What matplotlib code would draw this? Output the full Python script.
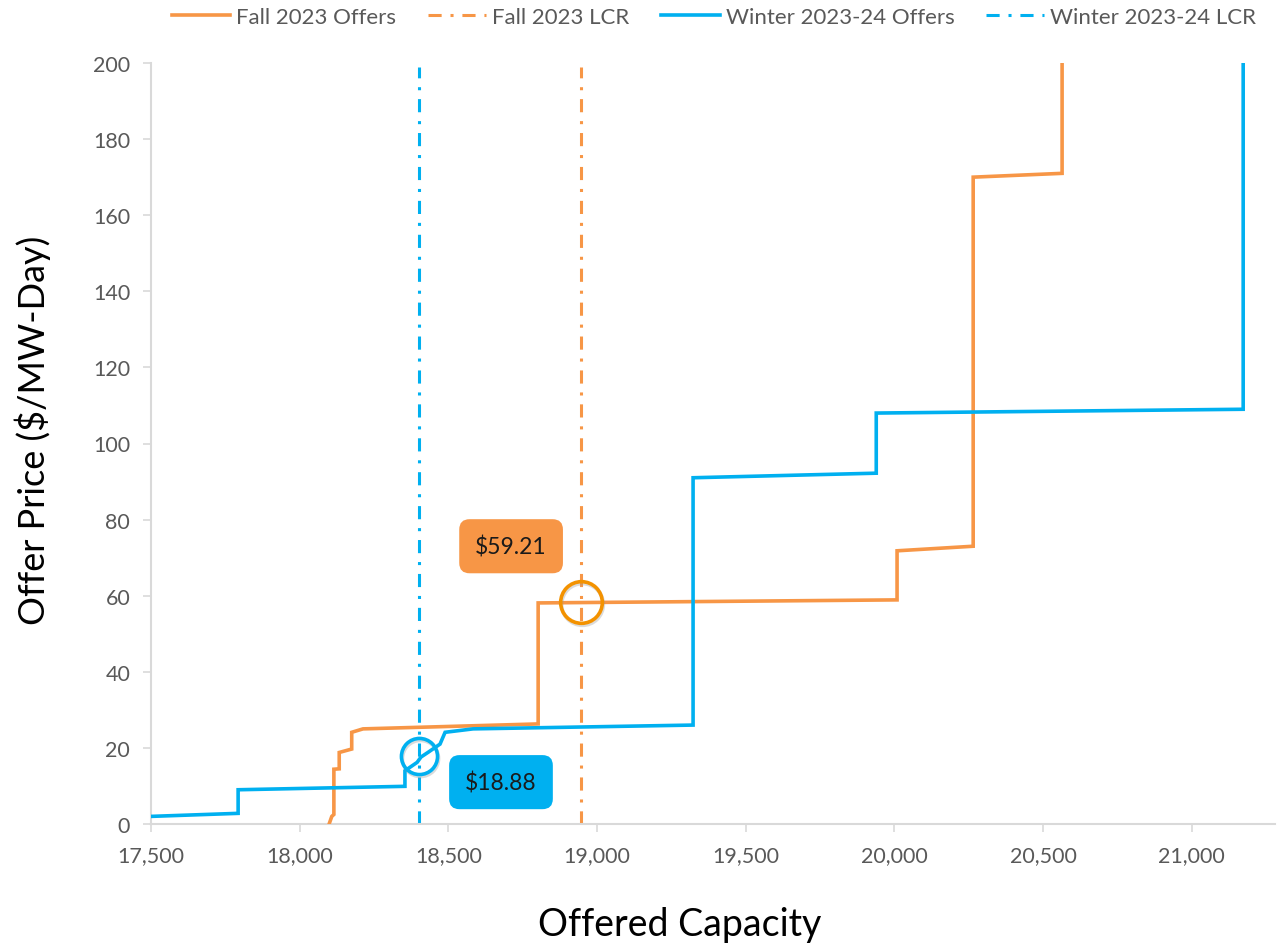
import matplotlib
matplotlib.use("Agg")
import matplotlib.pyplot as plt

plt.rcParams["font.family"] = ["Lato", "DejaVu Sans"]

# Offer curves (MW, $/MW-Day); vertical steps repeat the MW value.
fall_mw = [18099, 18108, 18115, 18115, 18133, 18133, 18175, 18175, 18213, 18802,
           18802, 20009, 20009, 20265, 20265, 20564, 20564]
fall_price = [0, 2.0, 2.5, 14.4, 14.5, 18.8, 19.7, 24.1, 25.0, 26.3,
              58.1, 58.9, 71.8, 73.0, 170.0, 171.0, 200.0]

winter_mw = [17500, 17793, 17793, 18354, 18354, 18395, 18408, 18433, 18472, 18489,
             18583, 19323, 19323, 19939, 19939, 21173, 21173]
winter_price = [2.0, 2.8, 9.0, 9.9, 14.0, 16.2, 17.6, 18.9, 21.0, 24.1,
                25.0, 26.0, 91.0, 92.2, 108.0, 109.0, 200.0]

fall_lcr = 18946
winter_lcr = 18401
fall_clear = 59.21
winter_clear = 18.88

labels = ["Fall 2023 Offers", "Fall 2023 LCR", "Winter 2023-24 Offers", "Winter 2023-24 LCR"]
x_ticks = [17500, 18000, 18500, 19000, 19500, 20000, 20500, 21000]
y_ticks = [0, 20, 40, 60, 80, 100, 120, 140, 160, 180, 200]

ORANGE = "#F79646"
BLUE = "#00B0F0"
GRAY_TXT = "#595959"
AXIS = "#D9D9D9"
DASHDOT = (0, (4.3, 2.9, 1.0, 2.9))

fig = plt.figure(figsize=(12.77, 9.45), dpi=100)
ax = fig.add_axes([151 / 1277, 1 - 825 / 945, (1275 - 151) / 1277, (825 - 64) / 945])

l1, = ax.plot(fall_mw, fall_price, color=ORANGE, lw=2.6, solid_joinstyle="miter", zorder=3)
l2 = ax.axvline(fall_lcr, color=ORANGE, lw=2.2, ls=DASHDOT, ymax=0.995, zorder=2)
l3, = ax.plot(winter_mw, winter_price, color=BLUE, lw=2.6, solid_joinstyle="miter", zorder=3)
l4 = ax.axvline(winter_lcr, color=BLUE, lw=2.2, ls=DASHDOT, ymax=0.995, zorder=2)

# clearing point circles (with a faint shadow)
for x, y, c, ms in [(fall_lcr, fall_clear - 0.8, "#F39200", 30), (winter_lcr, winter_clear - 0.9, BLUE, 26)]:
    ax.plot(x + 4, y - 0.6, "o", ms=ms, mfc="none", mec="#999999", mew=2.6, alpha=0.35, zorder=4)
    ax.plot(x, y, "o", ms=ms, mfc="none", mec=c, mew=2.6, zorder=5)

box = dict(boxstyle="round,pad=0.7,rounding_size=0.45", ec="none")
ax.text(18711, 73, f"${fall_clear:.2f}", fontsize=16.5, color="#1a1a1a", ha="center", va="center",
        bbox=dict(box, fc=ORANGE), zorder=6)
ax.text(18677, 11, f"${winter_clear:.2f}", fontsize=16.5, color="#1a1a1a", ha="center", va="center",
        bbox=dict(box, fc=BLUE), zorder=6)

ax.set_xlim(17500, 21280)
ax.set_ylim(0, 200)
ax.set_xticks(x_ticks)
ax.set_xticklabels([f"{v:,}" for v in x_ticks])
ax.set_yticks(y_ticks)
ax.tick_params(axis="both", colors=AXIS, labelcolor=GRAY_TXT, labelsize=15.5,
               length=6, width=1.2, pad=9)
for s in ["top", "right"]:
    ax.spines[s].set_visible(False)
for s in ["left", "bottom"]:
    ax.spines[s].set_color(AXIS)
    ax.spines[s].set_linewidth(1.5)

ax.set_xlabel("Offered Capacity", fontsize=27, color="black")
ax.xaxis.set_label_coords((680 - 151) / 1124, -(925 - 825) / 761)
ax.set_ylabel("Offer Price ($/MW-Day)", fontsize=26, color="black")
ax.yaxis.set_label_coords(-(151 - 33) / 1124, (825 - 430) / 761)
ax.xaxis.label.set_va("center")
ax.yaxis.label.set_va("center")

fig.legend([l1, l2, l3, l4], labels, loc="center", bbox_to_anchor=(714 / 1277, 1 - 18 / 945),
           ncol=4, frameon=False, fontsize=16, labelcolor=GRAY_TXT, handlelength=2.65,
           handletextpad=0.27, columnspacing=1.4)

fig.savefig("out.png", dpi=100)
